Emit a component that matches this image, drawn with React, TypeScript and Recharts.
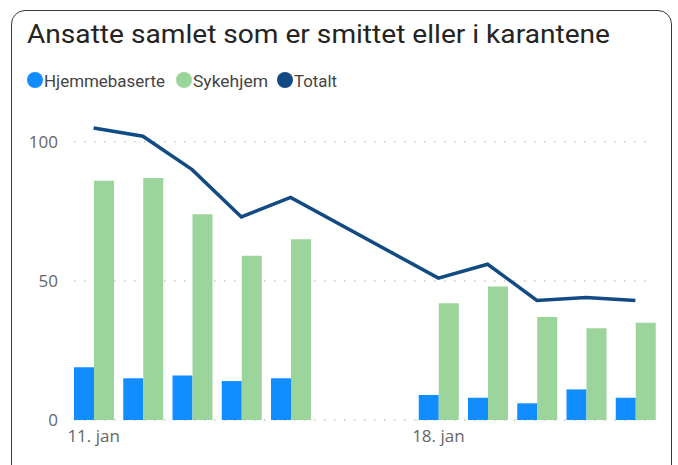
import React from 'react'
import {
  ComposedChart,
  Bar,
  Line,
  XAxis,
  YAxis,
  CartesianGrid,
} from 'recharts'

const days = [
  '11. jan', '12. jan', '13. jan', '14. jan', '15. jan', '16. jan',
  '17. jan', '18. jan', '19. jan', '20. jan', '21. jan', '22. jan',
]
const hjemmebaserte = [19, 15, 16, 14, 15, null, null, 9, 8, 6, 11, 8]
const sykehjem = [86, 87, 74, 59, 65, null, null, 42, 48, 37, 33, 35]
const totalt = [105, 102, 90, 73, 80, null, null, 51, 56, 43, 44, 43]
const xTickLabels = ['11. jan', '18. jan']
const yTicks = [0, 50, 100]

const data = days.map((day, i) => ({
  day,
  hjemmebaserte: hjemmebaserte[i],
  sykehjem: sykehjem[i],
  totalt: totalt[i],
}))

const colors = {
  hjemmebaserte: '#118DFF',
  sykehjem: '#9BD59B',
  totalt: '#124A84',
}

// legend entries: dot centre x, text start x, text width
const legendItems = [
  { name: 'Hjemmebaserte', color: colors.hjemmebaserte, cx: 35, tx: 44, w: 121 },
  { name: 'Sykehjem', color: colors.sykehjem, cx: 184, tx: 193, w: 75 },
  { name: 'Totalt', color: colors.totalt, cx: 285, tx: 294, w: 43 },
]

export default function App() {
  return (
    <div
      style={{
        position: 'absolute',
        left: 0,
        top: 0,
        width: 678,
        height: 465,
        overflow: 'hidden',
        background: '#fff',
        fontFamily: 'Roboto, sans-serif',
      }}
    >
      {/* card frame */}
      <div
        style={{
          position: 'absolute',
          left: 11,
          top: 10,
          width: 661,
          height: 470,
          border: '1.5px solid #3a3a3a',
          borderRadius: 14,
          boxSizing: 'border-box',
        }}
      />
      <svg
        width={678}
        height={100}
        style={{ position: 'absolute', left: 0, top: 0 }}
      >
        <text
          x={27}
          y={43}
          fontSize={26}
          fill="#252423"
          textLength={583}
          lengthAdjust="spacingAndGlyphs"
          fontFamily="Roboto, sans-serif"
        >
          Ansatte samlet som er smittet eller i karantene
        </text>
        {legendItems.map((item) => (
          <g key={item.name}>
            <circle cx={item.cx} cy={80} r={8} fill={item.color} />
            <text
              x={item.tx}
              y={86.5}
              fontSize={17}
              fill="#444"
              textLength={item.w}
              lengthAdjust="spacingAndGlyphs"
              fontFamily="Roboto, sans-serif"
            >
              {item.name}
            </text>
          </g>
        ))}
      </svg>
      <div style={{ position: 'absolute', left: 0, top: 0 }}>
        <ComposedChart
          width={678}
          height={465}
          data={data}
          margin={{ top: 114, right: 18, bottom: 15, left: 9 }}
          barGap={0}
        >
          <CartesianGrid
            vertical={false}
            x={74}
            width={576}
            horizontalValues={yTicks}
            stroke="#C8C6C4"
            strokeWidth={1.5}
            strokeDasharray="1.5 8.5"
          />
          <XAxis
            dataKey="day"
            axisLine={false}
            tickLine={false}
            interval={0}
            height={30}
            tickMargin={4}
            tick={{ fill: '#666', fontSize: 17, fontFamily: 'Open Sans, sans-serif' }}
            tickFormatter={(v: string) => (xTickLabels.includes(v) ? v : '')}
          />
          <YAxis
            width={60}
            domain={[0, 110]}
            ticks={yTicks}
            axisLine={false}
            tickLine={false}
            tickMargin={5}
            tick={{ fill: '#666', fontSize: 17, fontFamily: 'Open Sans, sans-serif' }}
          />
          <Bar
            dataKey="hjemmebaserte"
            fill={colors.hjemmebaserte}
            barSize={20}
            isAnimationActive={false}
          />
          <Bar
            dataKey="sykehjem"
            fill={colors.sykehjem}
            barSize={20}
            isAnimationActive={false}
          />
          <Line
            dataKey="totalt"
            stroke={colors.totalt}
            strokeWidth={3.5}
            dot={false}
            connectNulls
            isAnimationActive={false}
          />
        </ComposedChart>
      </div>
    </div>
  )
}
